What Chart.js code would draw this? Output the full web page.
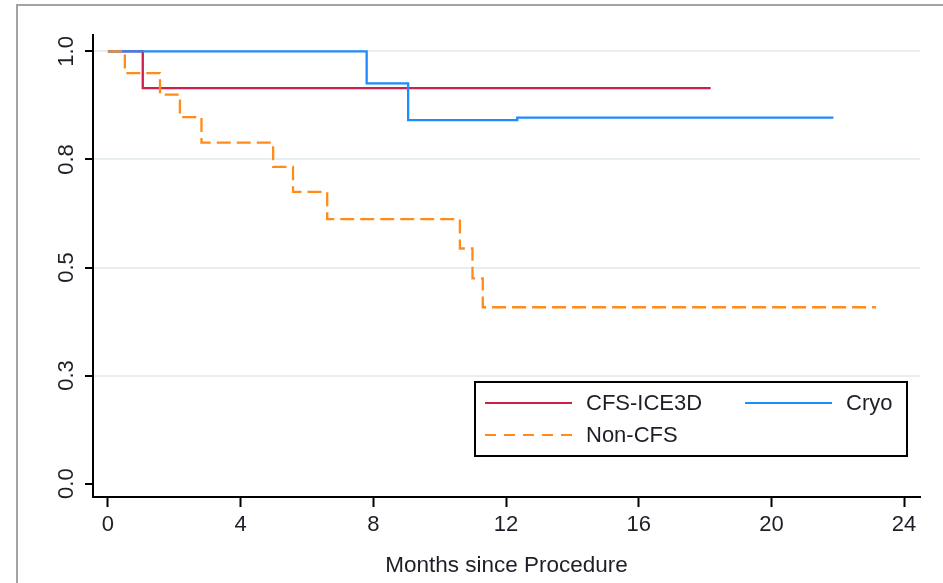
<!DOCTYPE html>
<html><head><meta charset="utf-8">
<script src="https://cdn.jsdelivr.net/npm/chart.js@4.4.1/dist/chart.umd.min.js"></script>
<style>html,body{margin:0;padding:0;background:#fff;}</style>
</head><body>
<canvas id="c" width="943" height="583"></canvas>
<script>
// ---- data ----
const seriesLabels = ['CFS-ICE3D', 'Cryo', 'Non-CFS'];
const cfsTimes  = [0, 1.05, 18.17];
const cfsSurv   = [1, 0.915, 0.915];
const cryoTimes = [0, 7.8, 9.05, 12.34, 21.87];
const cryoSurv  = [1, 0.926, 0.841, 0.847, 0.847];
const nonTimes  = [0, 0.51, 1.57, 2.17, 2.82, 4.98, 5.58, 6.61, 10.61, 10.99, 11.30, 23.15];
const nonSurv   = [1, 0.95, 0.90, 0.848, 0.789, 0.733, 0.675, 0.612, 0.544, 0.475, 0.408, 0.408];
const xTickValues = [0, 4, 8, 12, 16, 20, 24];
const yTickValues = [0, 0.25, 0.5, 0.75, 1];
const yTickLabels = ['0.0', '0.3', '0.5', '0.8', '1.0'];
const xTitle = 'Months since Procedure';

const FONT = '"Liberation Sans", Arial, sans-serif';
const TXT = '#1e1e28';
const toPts = (t, s) => t.map((v, i) => ({x: v, y: s[i]}));

const frame = {
  id: 'frame',
  beforeDraw(chart) {
    const ctx = chart.ctx;
    ctx.save();
    ctx.fillStyle = '#fff';
    ctx.fillRect(0, 0, chart.width, chart.height);
    ctx.strokeStyle = '#a3a3a3';
    ctx.lineWidth = 2;
    ctx.strokeRect(17, 5, 1000, 1000);
    ctx.restore();
  }
};

const boxLegend = {
  id: 'boxLegend',
  afterDraw(chart) {
    const ctx = chart.ctx;
    const ca = chart.chartArea;
    const L = ca.right - 13 - 432, T = ca.bottom - 115, W = 432, H = 74;
    ctx.save();
    ctx.fillStyle = '#fff';
    ctx.fillRect(L, T, W, H);
    ctx.strokeStyle = '#000';
    ctx.lineWidth = 2;
    ctx.strokeRect(L, T, W, H);
    const ds = chart.data.datasets;
    const slots = [[L + 10, T + 21], [L + 270, T + 21], [L + 10, T + 53]];
    ctx.font = '22px ' + FONT;
    ctx.textBaseline = 'middle';
    ctx.fillStyle = TXT;
    ds.forEach((d, i) => {
      const [x, y] = slots[i];
      ctx.beginPath();
      ctx.strokeStyle = d.borderColor;
      ctx.lineWidth = 2;
      ctx.setLineDash(d.legendDash || []);
      ctx.moveTo(x, y); ctx.lineTo(x + 87, y);
      ctx.stroke();
      ctx.setLineDash([]);
      ctx.fillText(d.label, x + 101, y + 1);
    });
    ctx.restore();
  }
};

new Chart(document.getElementById('c'), {
  type: 'line',
  data: {
    datasets: [
      {label: seriesLabels[0], data: toPts(cfsTimes, cfsSurv), borderColor: '#cc1f4a', borderWidth: 2.3, stepped: true, pointRadius: 0, fill: false, order: 2},
      {label: seriesLabels[1], data: toPts(cryoTimes, cryoSurv), borderColor: '#1e8cff', borderWidth: 2.3, stepped: true, pointRadius: 0, fill: false, order: 1},
      {label: seriesLabels[2], data: toPts(nonTimes, nonSurv), borderColor: '#ff8c1a', borderWidth: 2.3, borderDash: [14, 6], legendDash: [11, 8], stepped: true, pointRadius: 0, fill: false, order: 0}
    ]
  },
  options: {
    responsive: false,
    animation: false,
    devicePixelRatio: 1,
    layout: {padding: {left: 20, top: 35, right: 23, bottom: 0}},
    plugins: {legend: {display: false}, tooltip: {enabled: false}},
    scales: {
      x: {
        type: 'linear',
        min: -0.45, max: 24.48,
        afterBuildTicks: s => { s.ticks = xTickValues.map(v => ({value: v})); },
        afterFit: s => { s.height = 86; },
        border: {color: '#000', width: 2},
        grid: {drawOnChartArea: false, tickLength: 10, tickColor: '#000', tickWidth: 2},
        ticks: {color: TXT, font: {family: FONT, size: 22}, padding: 5, maxRotation: 0},
        title: {display: true, text: xTitle, color: TXT, font: {family: FONT, size: 22.5}, padding: {top: 0, bottom: 4}}
      },
      y: {
        type: 'linear',
        min: -0.031, max: 1.038,
        afterBuildTicks: s => { s.ticks = yTickValues.map(v => ({value: v})); },
        afterFit: s => { s.width = 73; },
        border: {color: '#000', width: 2},
        grid: {
          color: c => (c.tick && c.tick.value === 0) ? 'rgba(0,0,0,0)' : '#e7eff1',
          lineWidth: 2,
          tickLength: 8, tickColor: '#000', tickWidth: 2
        },
        ticks: {
          color: TXT, font: {family: FONT, size: 22}, padding: 3,
          minRotation: 90, maxRotation: 90, crossAlign: 'center',
          callback: (v) => { const i = yTickValues.indexOf(v); return i >= 0 ? yTickLabels[i] : ''; }
        }
      }
    }
  },
  plugins: [frame, boxLegend]
});
</script>
</body></html>
